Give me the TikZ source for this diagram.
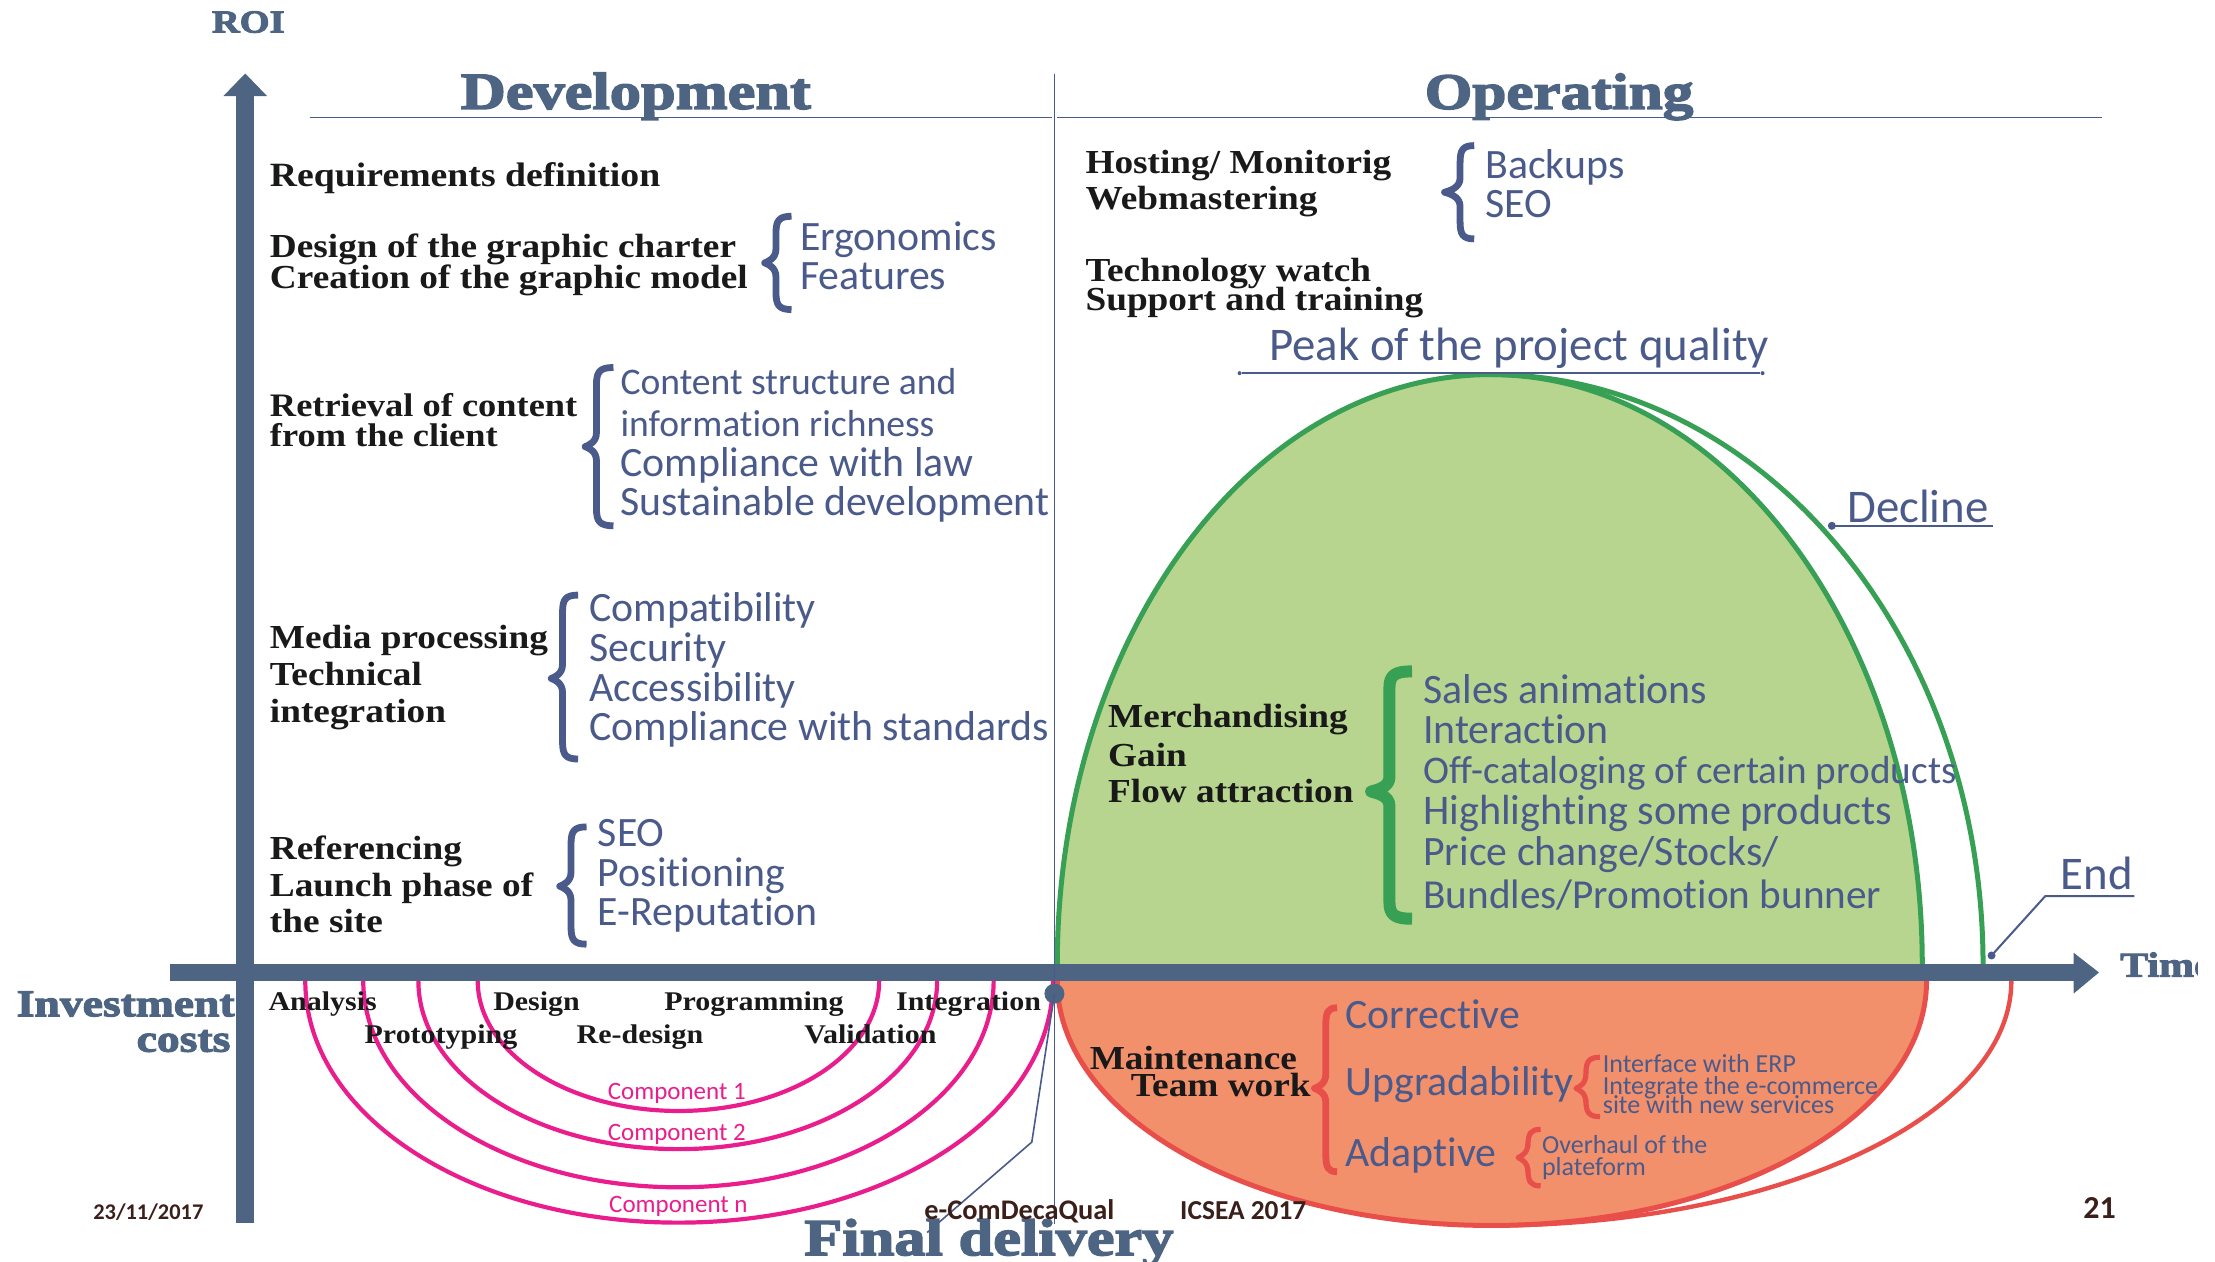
\documentclass[tikz,border=0pt]{standalone}
\usepackage{fontspec}
\setmainfont{Liberation Serif}
\newfontfamily\cfont[Ligatures=NoCommon]{Carlito}
\newfontfamily\hvfont[FakeBold=3,FakeStretch=1.2]{Liberation Serif Bold}
\newfontfamily\bkfont[FakeStretch=1.11]{Liberation Serif Bold}
\definecolor{axisc}{HTML}{4D6482}
\definecolor{bluet}{HTML}{4A5A8A}
\definecolor{greenf}{HTML}{B7D58F}
\definecolor{greenl}{HTML}{38A055}
\definecolor{orangef}{HTML}{F3906C}
\definecolor{redl}{HTML}{E94F4A}
\definecolor{magl}{HTML}{E91E8C}
\definecolor{brownt}{HTML}{3B1F1A}
\tikzset{
 tx/.style={inner sep=0pt,outer sep=0pt,anchor=base west},
 blk/.style={tx,font=\bkfont\fontsize{16.8}{18}\selectfont,text=black!90},
 ph/.style={tx,font=\bkfont\fontsize{13.5}{15}\selectfont,text=black!90},
 blu/.style={tx,font=\cfont\fontsize{20.9}{22}\selectfont,text=bluet},
 sblu/.style={tx,font=\cfont\fontsize{13}{14}\selectfont,text=bluet},
 hv/.style={tx,font=\hvfont\fontsize{26}{28}\selectfont,text=axisc},
 comp/.style={tx,font=\cfont\fontsize{12.5}{14}\selectfont,text=magl},
 foot/.style={tx,font=\cfont\bfseries\fontsize{13.7}{15}\selectfont,text=brownt},
 thin line/.style={draw=bluet,line width=0.8pt},
 lead line/.style={draw=bluet,line width=1pt},
 leaderdot/.style={circle,fill=bluet,inner sep=0pt,minimum size=4pt},
}
% #1 tip x, #2 spine x, #3 right x, #4 top y, #5 mid y, #6 bottom y, #7 colour, #8 width
\newcommand{\cbrace}[8]{\draw[#7,line width=#8,line join=round]
 (#3,#4) .. controls ({#2+0.2*(#3-#2)},#4) and (#2,{#4+3}) .. (#2,{#4+12})
 -- (#2,{#5-10}) .. controls (#2,{#5-3}) and ({#1+0.3*(#2-#1)},{#5-1}) .. (#1,#5)
 .. controls ({#1+0.3*(#2-#1)},{#5+1}) and (#2,{#5+3}) .. (#2,{#5+10})
 -- (#2,{#6-12}) .. controls (#2,{#6-3}) and ({#2+0.2*(#3-#2)},#6) .. (#3,#6);}
\begin{document}
\begin{tikzpicture}[x=0.7067pt,y=-0.7067pt]
\useasboundingbox (0,0) rectangle (1567.1,892.2);
% operating curves
\fill[greenf] (748,683) .. controls (748,452) and (885,265) .. (1055,265)
  .. controls (1223,265) and (1360,452) .. (1360,683) -- cycle;
\draw[greenl,line width=2.5pt] (748,683) .. controls (748,452) and (885,265) .. (1055,265)
  .. controls (1223,265) and (1360,452) .. (1360,683);
\draw[greenl,line width=2.5pt] (1055,265) .. controls (1247,265) and (1403,452) .. (1403,683);
\fill[orangef] (748,694) .. controls (748,790) and (885,867) .. (1055,867)
  .. controls (1225,867) and (1363,790) .. (1363,694) -- cycle;
\draw[redl,line width=2.5pt] (748,694) .. controls (748,790) and (885,867) .. (1055,867)
  .. controls (1225,867) and (1363,790) .. (1363,694);
\draw[redl,line width=2.2pt] (1055,867) .. controls (1258,867) and (1423,790) .. (1423,694);
% component arcs
\draw[magl,line width=2.1pt] (338,694) .. controls (338,745) and (402,786) .. (480,786) .. controls (559,786) and (622,745) .. (622,694);
\draw[magl,line width=2.1pt] (296,694) .. controls (296,760) and (378,813) .. (480,813) .. controls (581,813) and (663,760) .. (663,694);
\draw[magl,line width=2.1pt] (257,694) .. controls (257,775) and (357,840) .. (480,840) .. controls (603,840) and (703,775) .. (703,694);
\draw[magl,line width=2.1pt] (216,694) .. controls (216,790) and (334,865) .. (480,865) .. controls (626,865) and (745,790) .. (745,694);
% axes
\fill[axisc] (120,682) rectangle (1467,694);
\fill[axisc] (1467,674) -- (1485,688) -- (1467,703) -- cycle;
\fill[axisc] (167,68) rectangle (180,865);
\fill[axisc] (158,68) -- (173.5,52) -- (189,68) -- cycle;
% title rules
\coordinate (vtop) at (746,52);
\coordinate (vbot) at (746,866);
\draw[thin line] (vtop) -- (vbot);
\coordinate (dl) at (219,83); \coordinate (dr) at (744,83);
\coordinate (ol) at (748,83); \coordinate (or) at (1487,83);
\draw[thin line] (dl) -- (dr);
\draw[thin line] (ol) -- (or);
% final delivery marker
\node[circle,fill=axisc,minimum size=10pt,inner sep=0pt] (fd) at (746,703) {};
\coordinate (fdk) at (730,808); \coordinate (fde) at (656,872);
\draw[thin line] (fd.center) -- (fdk) -- (fde);
% leaders
\node[leaderdot,minimum size=2pt] (pl) at (877,264) {};
\node[leaderdot,minimum size=2pt] (pr) at (1247,264) {};
\draw[lead line] (pl) -- (pr);
\node[leaderdot] (dec) at (1296,372) {}; \coordinate (dece) at (1410,372);
\draw[lead line] (dec.center) -- (dece);
\node[leaderdot] (en) at (1409,676) {}; \coordinate (enk) at (1447,634); \coordinate (ene) at (1510,634);
\draw[lead line] (en.center) -- (enk) -- (ene);
% braces
\cbrace{541}{549}{560}{153}{186}{219}{bluet}{3.4pt}
\cbrace{1022}{1033}{1043}{103}{136}{169}{bluet}{3.4pt}
\cbrace{414}{422}{434}{260}{316}{372}{bluet}{3.4pt}
\cbrace{390}{398}{409}{421}{480}{537}{bluet}{3.4pt}
\cbrace{396}{404}{415}{585}{627}{668}{bluet}{3.4pt}
\cbrace{970}{983}{999}{475}{560}{650}{greenl}{6pt}
\cbrace{930}{938}{946}{713}{770}{829}{redl}{3.4pt}
\cbrace{1115}{1122}{1132}{748}{770}{790}{redl}{2.6pt}
\cbrace{1074}{1081}{1090}{799}{819}{839}{redl}{2.6pt}
% headings
\node[hv,font=\hvfont\fontsize{16}{18}\selectfont] (roi) at (150,23) {ROI};
\node[hv] (dev) at (326,77) {Development};
\node[hv,font=\hvfont\fontsize{25.5}{28}\selectfont] (ope) at (1008,77) {Operating};
\node[hv,font=\hvfont\fontsize{19}{21}\selectfont,anchor=base east] (inv) at (166,719) {Investment};
\node[hv,font=\hvfont\fontsize{19}{21}\selectfont,anchor=base east] (cos) at (163,744) {costs};
\node[hv] (fin) at (569,888) {Final delivery};
\begin{scope}
\clip (1490,660) rectangle (1555,710);
\node[hv,font=\hvfont\fontsize{17.5}{19}\selectfont] (tim) at (1500,691) {Time};
\end{scope}
% development, black
\node[blk,font=\bkfont\fontsize{17}{18}\selectfont] (b1) at (191,132) {Requirements definition};
\node[blk] (b2) at (191,182) {Design of the graphic charter};
\node[blk] (b3) at (191,204) {Creation of the graphic model};
\node[blk,font=\bkfont\fontsize{16.4}{18}\selectfont] (b4) at (191,295) {Retrieval of content};
\node[blk,font=\bkfont\fontsize{16.4}{18}\selectfont] (b5) at (191,316) {from the client};
\node[blk] (b6) at (191,459) {Media processing};
\node[blk] (b7) at (191,485) {Technical};
\node[blk] (b8) at (191,511) {integration};
\node[blk] (b9) at (191,608) {Referencing};
\node[blk] (b10) at (191,634) {Launch phase of};
\node[blk] (b11) at (191,660) {the site};
% operating, black
\node[blk] (c1) at (768,123) {Hosting/ Monitorig};
\node[blk] (c2) at (768,148) {Webmastering};
\node[blk] (c3) at (768,199) {Technology watch};
\node[blk] (c4) at (768,220) {Support and training};
\node[blk] (c5) at (784,515) {Merchandising};
\node[blk] (c6) at (784,542) {Gain};
\node[blk] (c7) at (784,568) {Flow attraction};
\node[blk] (c8) at (771,757) {Maintenance};
\node[blk] (c9) at (800,776) {Team work};
% phases
\node[ph] (p1) at (190,715) {Analysis};
\node[ph] (p2) at (349,715) {Design};
\node[ph] (p3) at (470,715) {Programming};
\node[ph] (p4) at (634,715) {Integration};
\node[ph] (p5) at (258,738) {Prototyping};
\node[ph] (p6) at (408,738) {Re-design};
\node[ph] (p7) at (569,738) {Validation};
% blue
\node[blu] (e1) at (566,177) {Ergonomics};
\node[blu] (e2) at (566,205) {Features};
\node[blu] (k1) at (1051,126) {Backups};
\node[blu] (k2) at (1051,154) {SEO};
\node[blu,font=\cfont\fontsize{18.8}{22}\selectfont] (r1) at (439,279) {Content structure and};
\node[blu,font=\cfont\fontsize{18.8}{22}\selectfont] (r2) at (439,309) {information richness};
\node[blu] (r3) at (439,337) {Compliance with law};
\node[blu] (r4) at (439,365) {Sustainable development};
\node[blu] (m1) at (417,440) {Compatibility};
\node[blu] (m2) at (417,468) {Security};
\node[blu] (m3) at (417,496) {Accessibility};
\node[blu] (m4) at (417,524) {Compliance with standards};
\node[blu] (s1) at (423,599) {SEO};
\node[blu] (s2) at (423,627) {Positioning};
\node[blu] (s3) at (423,655) {E-Reputation};
\node[blu,font=\cfont\fontsize{23.4}{24}\selectfont] (pk) at (898,255) {Peak of the project quality};
\node[blu,font=\cfont\fontsize{23.4}{24}\selectfont] (dc) at (1307,370) {Decline};
\node[blu,font=\cfont\fontsize{23.4}{24}\selectfont] (ed) at (1458,629) {End};
\node[blu] (g1) at (1007,498) {Sales animations};
\node[blu] (g2) at (1007,526) {Interaction};
\node[blu,font=\cfont\fontsize{19.6}{22}\selectfont] (g3) at (1007,554) {Off-cataloging of certain products};
\node[blu,font=\cfont\fontsize{21.1}{22}\selectfont] (g4) at (1007,583) {Highlighting some products};
\node[blu] (g5) at (1007,612) {Price change/Stocks/};
\node[blu,font=\cfont\fontsize{20.6}{22}\selectfont] (g6) at (1007,643) {Bundles/Promotion bunner};
\node[blu] (o1) at (952,728) {Corrective};
\node[blu] (o2) at (952,775) {Upgradability};
\node[blu] (o3) at (952,825) {Adaptive};
\node[sblu] (q1) at (1134,759) {Interface with ERP};
\node[sblu] (q2) at (1134,774) {Integrate the e-commerce};
\node[sblu] (q3) at (1134,788) {site with new services};
\node[sblu] (q4) at (1091,816) {Overhaul of the};
\node[sblu] (q5) at (1091,832) {plateform};
% components
\node[comp] (a1) at (430,778) {Component 1};
\node[comp] (a2) at (430,807) {Component 2};
\node[comp] (a3) at (431,858) {Component n};
% footer
\node[foot,font=\cfont\bfseries\fontsize{11.2}{13}\selectfont] (f1) at (66,863) {23/11/2017};
\node[foot,font=\cfont\bfseries\fontsize{14.2}{15}\selectfont] (f2) at (654,863) {e-ComDecaQual};
\node[foot] (f3) at (835,863) {ICSEA 2017};
\node[foot,font=\cfont\bfseries\fontsize{16}{17}\selectfont] (f4) at (1474,862) {21};
\end{tikzpicture}
\end{document}
